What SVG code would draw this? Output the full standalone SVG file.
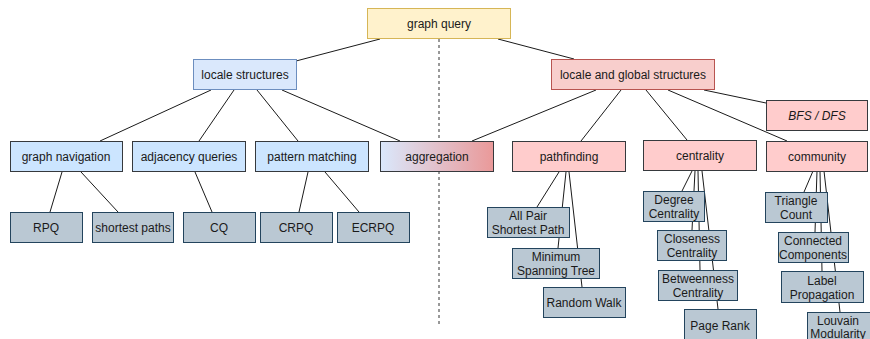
<svg xmlns="http://www.w3.org/2000/svg" width="870" height="339" viewBox="0 0 870 339">
<defs>
<linearGradient id="agg" x1="0" y1="0" x2="1" y2="0">
<stop offset="0" stop-color="#dae8fc"/>
<stop offset="1" stop-color="#ea9999"/>
</linearGradient>
</defs>
<style>
text{font-family:"Liberation Sans",Arial,sans-serif;font-size:12px;fill:#1a1a1a;text-anchor:middle}
.top{fill:#fff2cc;stroke:#d6b656}
.lb{fill:#dae8fc;stroke:#6c8ebf}
.lr{fill:#f8cecc;stroke:#b85450}
.b2{fill:#cce5ff;stroke:#36393d}
.p2{fill:#ffcccc;stroke:#36393d}
.lf{fill:#bac8d3;stroke:#23445d}
#edges line{stroke:#1a1a1a;stroke-width:1}
</style>
<rect width="870" height="339" fill="#ffffff"/>
<line x1="439" y1="39" x2="439" y2="325" stroke="#333" stroke-dasharray="3 3"/>
<g id="edges">
<line x1="380" y1="39" x2="296" y2="61"/>
<line x1="498" y1="39" x2="574" y2="59"/>
<line x1="211" y1="90" x2="100" y2="141"/>
<line x1="234" y1="90" x2="199" y2="141"/>
<line x1="257" y1="90" x2="298" y2="141"/>
<line x1="282" y1="90" x2="400" y2="141"/>
<line x1="596" y1="90" x2="472" y2="141"/>
<line x1="621" y1="90" x2="581" y2="141"/>
<line x1="646" y1="90" x2="687" y2="140"/>
<line x1="668" y1="90" x2="787" y2="141"/>
<line x1="704" y1="90" x2="766" y2="103"/>
<line x1="62" y1="172" x2="50" y2="212"/>
<line x1="81" y1="172" x2="118" y2="212"/>
<line x1="195" y1="172" x2="212" y2="212"/>
<line x1="308" y1="172" x2="299" y2="212"/>
<line x1="325" y1="172" x2="359" y2="212"/>
<line x1="559" y1="172" x2="537" y2="207"/>
<line x1="566" y1="172" x2="558" y2="248"/>
<line x1="569" y1="172" x2="582" y2="287"/>
<line x1="692" y1="171" x2="682" y2="191"/>
<line x1="695" y1="171" x2="692" y2="230"/>
<line x1="698" y1="171" x2="700" y2="270"/>
<line x1="702" y1="171" x2="718" y2="309"/>
<line x1="813" y1="171" x2="804" y2="192"/>
<line x1="817" y1="171" x2="815" y2="232"/>
<line x1="820" y1="171" x2="822" y2="271"/>
<line x1="824" y1="171" x2="840" y2="312"/>
</g>
<g id="graph-query"><rect class="top" x="367.5" y="8.5" width="143" height="30"/><text x="439" y="28">graph query</text></g>
<g id="locale-structures"><rect class="lb" x="193.5" y="59.5" width="103" height="30"/><text x="245" y="79">locale structures</text></g>
<g id="locale-global"><rect class="lr" x="551.5" y="59.5" width="163" height="30"/><text x="633" y="79">locale and global structures</text></g>
<g id="bfs-dfs"><rect class="p2" x="766.5" y="100.5" width="101" height="30"/><text x="817" y="120" font-style="italic">BFS / DFS</text></g>
<g id="graph-navigation"><rect class="b2" x="10.5" y="141.5" width="112" height="30"/><text x="66" y="161">graph navigation</text></g>
<g id="adjacency-queries"><rect class="b2" x="132.5" y="141.5" width="113" height="30"/><text x="189" y="161">adjacency queries</text></g>
<g id="pattern-matching"><rect class="b2" x="255.5" y="141.5" width="113" height="30"/><text x="312" y="161">pattern matching</text></g>
<g id="aggregation"><rect x="380.5" y="141.5" width="113" height="30" fill="url(#agg)" stroke="#36393d"/><text x="437" y="161">aggregation</text></g>
<g id="pathfinding"><rect class="p2" x="512.5" y="141.5" width="113" height="30"/><text x="569" y="161">pathfinding</text></g>
<g id="centrality"><rect class="p2" x="643.5" y="140.5" width="113" height="30"/><text x="700" y="160">centrality</text></g>
<g id="community"><rect class="p2" x="766.5" y="141.5" width="101" height="30"/><text x="817" y="161">community</text></g>
<g id="rpq"><rect class="lf" x="10.5" y="212.5" width="72" height="30"/><text x="46" y="232">RPQ</text></g>
<g id="shortest-paths"><rect class="lf" x="92.5" y="212.5" width="81" height="30"/><text x="133" y="232">shortest paths</text></g>
<g id="cq"><rect class="lf" x="183.5" y="212.5" width="72" height="30"/><text x="219" y="232">CQ</text></g>
<g id="crpq"><rect class="lf" x="260.5" y="212.5" width="72" height="30"/><text x="296" y="232">CRPQ</text></g>
<g id="ecrpq"><rect class="lf" x="337.5" y="212.5" width="72" height="30"/><text x="373" y="232">ECRPQ</text></g>
<g id="all-pair"><rect class="lf" x="487.5" y="207.5" width="82" height="30"/><text x="528" y="220">All Pair</text><text x="528" y="234">Shortest Path</text></g>
<g id="mst"><rect class="lf" x="512.5" y="248.5" width="87" height="30"/><text x="556" y="261">Minimum</text><text x="556" y="275">Spanning Tree</text></g>
<g id="random-walk"><rect class="lf" x="543.5" y="287.5" width="82" height="30"/><text x="584" y="307">Random Walk</text></g>
<g id="degree"><rect class="lf" x="643.5" y="191.5" width="61" height="30"/><text x="674" y="204">Degree</text><text x="674" y="218">Centrality</text></g>
<g id="closeness"><rect class="lf" x="657.5" y="230.5" width="69" height="30"/><text x="692" y="243">Closeness</text><text x="692" y="257">Centrality</text></g>
<g id="betweenness"><rect class="lf" x="658.5" y="270.5" width="79" height="30"/><text x="698" y="283">Betweenness</text><text x="698" y="297">Centrality</text></g>
<g id="page-rank"><rect class="lf" x="684.5" y="309.5" width="72" height="31"/><text x="720" y="330">Page Rank</text></g>
<g id="triangle"><rect class="lf" x="765.5" y="192.5" width="62" height="30"/><text x="796" y="205">Triangle</text><text x="796" y="219">Count</text></g>
<g id="connected"><rect class="lf" x="778.5" y="232.5" width="70" height="30"/><text x="813" y="245">Connected</text><text x="813" y="259">Components</text></g>
<g id="label-prop"><rect class="lf" x="781.5" y="271.5" width="82" height="31"/><text x="822" y="285">Label</text><text x="822" y="299">Propagation</text></g>
<g id="louvain"><rect class="lf" x="807.5" y="312.5" width="64" height="31"/><text x="838" y="325">Louvain</text><text x="838" y="338">Modularity</text></g>
</svg>
